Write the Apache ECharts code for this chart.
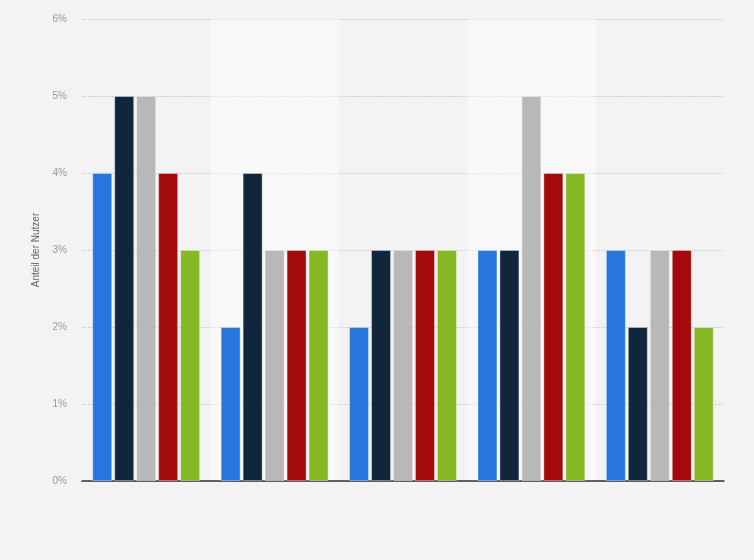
<!DOCTYPE html>
<html>
<head>
<meta charset="utf-8">
<script src="https://cdn.jsdelivr.net/npm/echarts@6/dist/echarts.min.js"></script>
<style>html,body{margin:0;padding:0;background:#f3f3f3;}#c{width:754px;height:560px;}</style>
</head>
<body>
<div id="c"></div>
<script>
const categories = ['Gruppe 1', 'Gruppe 2', 'Gruppe 3', 'Gruppe 4', 'Gruppe 5'];
const seriesNames = ['Serie 1', 'Serie 2', 'Serie 3', 'Serie 4', 'Serie 5'];
const seriesColors = ['#2876dd', '#10263d', '#b8b8b8', '#a30a0c', '#86b825'];
const s1 = [4, 2, 2, 3, 3];
const s2 = [5, 4, 3, 3, 2];
const s3 = [5, 3, 3, 5, 3];
const s4 = [4, 3, 3, 4, 3];
const s5 = [3, 3, 3, 4, 2];
const yTicks = [0, 1, 2, 3, 4, 5, 6];
const allValues = [s1, s2, s3, s4, s5];

const chart = echarts.init(document.getElementById('c'));
chart.setOption({
  backgroundColor: '#f3f3f3',
  animation: false,
  grid: { left: 82, right: 30, top: 19, bottom: 79 },
  xAxis: {
    type: 'category',
    data: categories,
    z: 2,
    axisLine: { lineStyle: { color: '#333', width: 1.5 } },
    axisTick: { show: false },
    axisLabel: { show: false },
    splitArea: { show: true, areaStyle: { color: ['rgba(0,0,0,0)', 'rgba(255,255,255,0.45)'] } }
  },
  yAxis: {
    type: 'value',
    z: 1,
    min: yTicks[0],
    max: yTicks[yTicks.length - 1],
    interval: 1,
    name: 'Anteil der Nutzer',
    nameLocation: 'middle',
    nameGap: 40,
    nameTextStyle: { color: '#666', fontSize: 10, fontFamily: 'Liberation Sans, Arial, sans-serif' },
    axisLine: { show: false },
    axisTick: { show: false },
    axisLabel: { color: '#999', fontSize: 10, margin: 15, fontFamily: 'Liberation Sans, Arial, sans-serif', formatter: v => v + '%' },
    splitLine: { lineStyle: { color: '#d0d0d0', type: [2, 1] } }
  },
  series: allValues.map((vals, i) => ({
    name: seriesNames[i],
    type: 'bar',
    data: vals,
    z: 3,
    barGap: '10%',
    barCategoryGap: '16%',
    itemStyle: { color: seriesColors[i], borderColor: 'rgba(255,255,255,0.35)', borderWidth: 1 }
  }))
});
</script>
</body>
</html>
